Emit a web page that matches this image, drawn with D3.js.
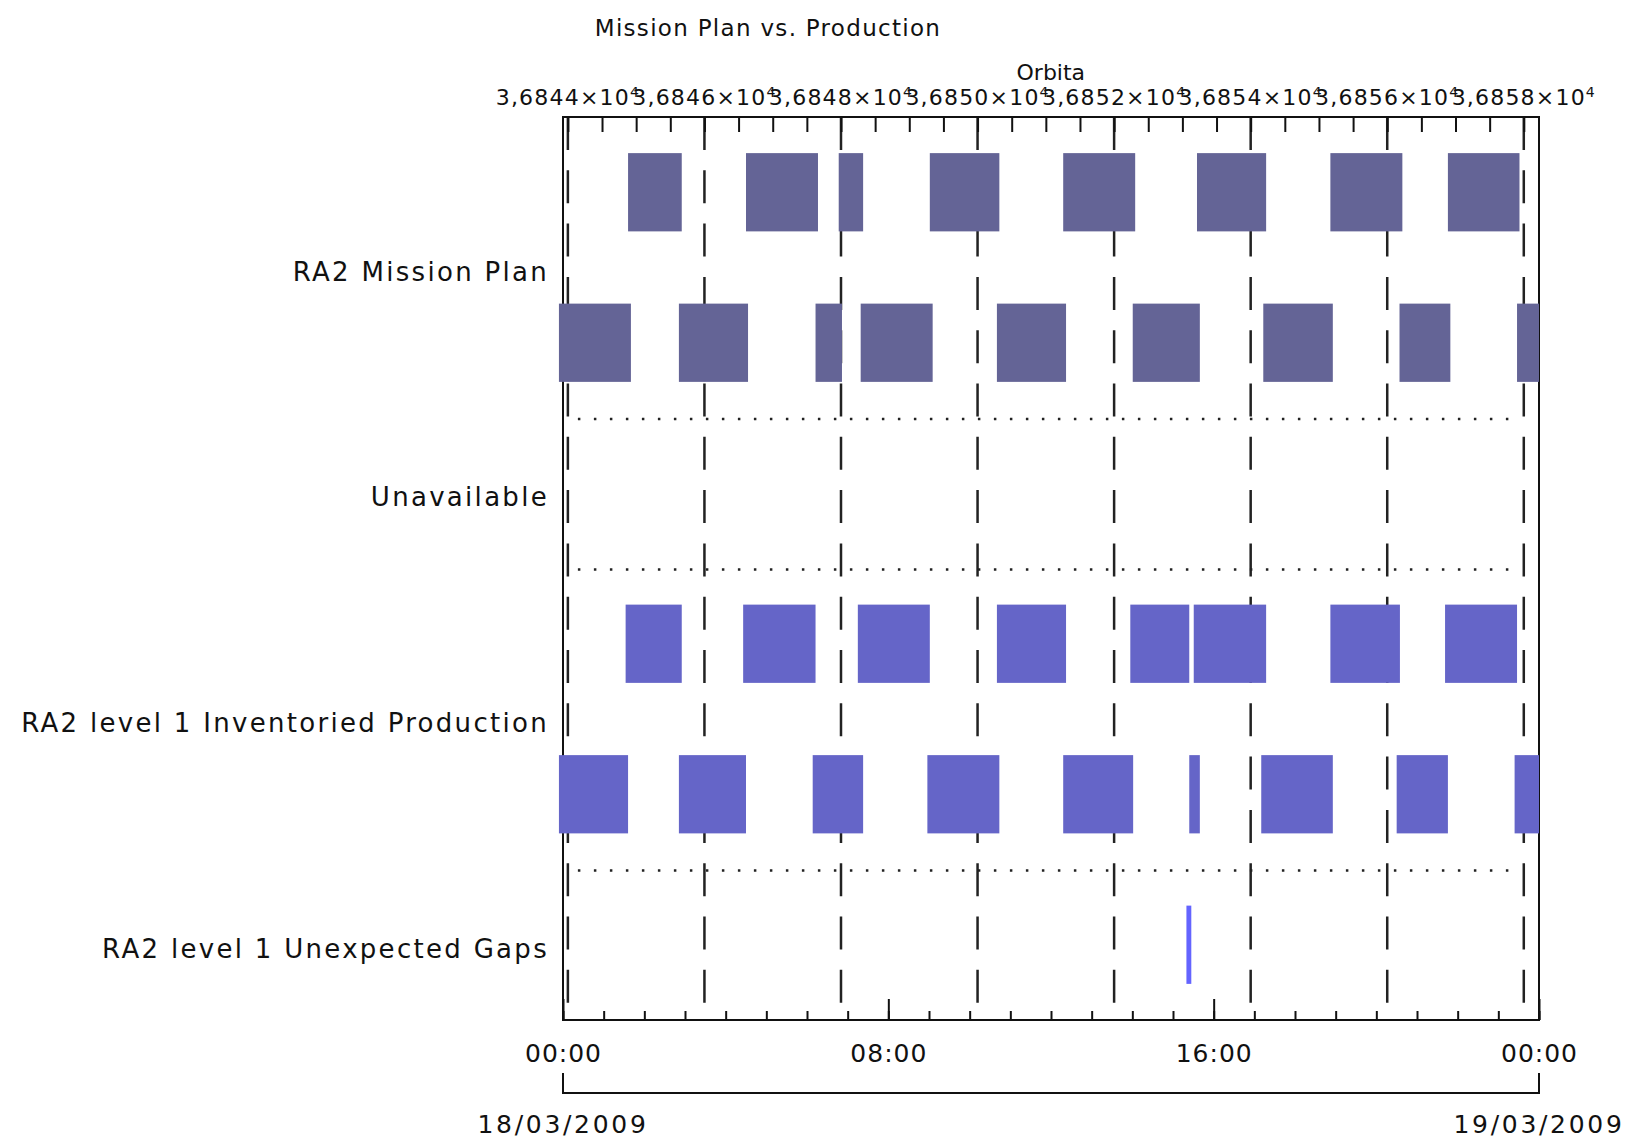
<!DOCTYPE html>
<html>
<head>
<meta charset="utf-8">
<script src="https://cdn.jsdelivr.net/npm/d3@7"></script>
<style>
    body { margin: 0; background: #fff; }
    svg text { font-family: 'DejaVu Sans', sans-serif; fill: #111; }
</style>
</head>
<body>
<script>
// row labels and how many stacked lanes each row uses
const categories = ['RA2 Mission Plan', 'Unavailable', 'RA2 level 1 Inventoried Production', 'RA2 level 1 Unexpected Gaps'];
const laneCounts = [2, 1, 2, 1];
const barColors = ['#646496', '#646496', '#6565c8', '#6464ff'];

// intervals in hours since 18/03/2009 00:00 (segments alternate between the two lanes)
const missionPlan = [
    [-0.10, 1.67], [1.60, 2.92], [2.85, 4.55], [4.50, 6.27], [6.21, 6.86], [6.78, 7.38],
    [7.32, 9.09], [9.02, 10.73], [10.67, 12.37], [12.30, 14.07], [14.01, 15.66], [15.59, 17.29],
    [17.22, 18.93], [18.87, 20.64], [20.57, 21.82], [21.76, 23.52], [23.46, 24.00]
];
const unavailable = [];
const inventoriedProduction = [
    [-0.10, 1.60], [1.54, 2.92], [2.85, 4.50], [4.43, 6.21], [6.14, 7.38], [7.25, 9.02],
    [8.96, 10.73], [10.67, 12.37], [12.30, 14.02], [13.95, 15.40], [15.40, 15.66], [15.51, 17.29],
    [17.17, 18.93], [18.87, 20.58], [20.50, 21.76], [21.69, 23.46], [23.40, 24.00]
];
const unexpectedGaps = [[15.33, 15.45]];

// orbit axis
const orbitFirst = 36844;
const orbitLast = 36858;
const orbitFirstHour = 0.12;
const orbitPeriodHours = 1.679;

const dayStart = new Date(2009, 2, 18);
const dayEnd = new Date(2009, 2, 19);

drawChart();

function drawChart()
{
    const width = 1631;
    const height = 1141;

    const marginLeft = 563;
    const marginRight = 92;
    const marginTop = 117;
    const marginBottom = 121;

    const svg = d3.select('body').append('svg')
        .attr('width', width)
        .attr('height', height);

    const toDate = h => new Date(dayStart.getTime() + h * 36e5);
    const orbitAt = h => orbitFirst + (h - orbitFirstHour) / orbitPeriodHours;

    // x scalers
    const x = d3.scaleTime()
        .domain([dayStart, dayEnd])
        .range([marginLeft, width - marginRight]);

    const xOrbit = d3.scaleLinear()
        .domain([orbitAt(0), orbitAt(24)])
        .range([marginLeft, width - marginRight]);

    // one band per lane
    const lanes = [];
    categories.forEach((c, i) => d3.range(laneCounts[i]).forEach(k => lanes.push(`${c}#${k}`)));

    const y = d3.scaleBand()
        .domain(lanes)
        .range([marginTop, height - marginBottom])
        .paddingInner(0.48)
        .paddingOuter(0.24);

    const step = y.step();
    const laneTop = lane => y(lane) - (step - y.bandwidth()) / 2;

    const orbitLines = d3.range(orbitFirst, orbitLast + 1, 2);

    // dashed orbit lines
    svg.selectAll('line.orbit')
        .data(orbitLines)
        .enter()
        .append('line')
        .attr('class', 'orbit')
        .attr('x1', d => xOrbit(d))
        .attr('x2', d => xOrbit(d))
        .attr('y1', marginTop)
        .attr('y2', height - marginBottom)
        .attr('stroke', '#222')
        .attr('stroke-width', 2.5)
        .attr('stroke-dasharray', '33 20.3');

    // dotted separators between rows
    const separators = [];
    let laneIndex = 0;
    laneCounts.slice(0, -1).forEach(n =>
    {
        laneIndex += n;
        separators.push(laneTop(lanes[laneIndex]) + 1);
    });

    svg.selectAll('line.separator')
        .data(separators)
        .enter()
        .append('line')
        .attr('class', 'separator')
        .attr('x1', xOrbit(orbitFirst) + 10)
        .attr('x2', xOrbit(orbitLast) - 10)
        .attr('y1', d => d)
        .attr('y2', d => d)
        .attr('stroke', '#222')
        .attr('stroke-width', 2.5)
        .attr('stroke-dasharray', '2.5 13.5');

    // frame
    svg.append('rect')
        .attr('x', marginLeft)
        .attr('y', marginTop)
        .attr('width', width - marginLeft - marginRight)
        .attr('height', height - marginTop - marginBottom)
        .attr('fill', 'none')
        .attr('stroke', '#111')
        .attr('stroke-width', 2);

    // top orbit axis
    const topAxis = svg.append('g')
        .attr('transform', `translate(0, ${marginTop})`)
        .call(d3.axisTop(xOrbit)
            .tickValues(d3.range(orbitFirst, orbitLast + 0.01, 0.5))
            .tickSize(-15)
            .tickFormat(''))
        .call(g => g.select('.domain').remove());

    topAxis.selectAll('.tick line').attr('stroke', '#111').attr('stroke-width', 2);

    topAxis.selectAll('text.orbit-label')
        .data(orbitLines)
        .enter()
        .append('text')
        .attr('class', 'orbit-label')
        .attr('x', d => xOrbit(d))
        .attr('y', -12)
        .attr('text-anchor', 'middle')
        .style('font-size', '22px')
        .attr('letter-spacing', 1.2)
        .each(function(d)
        {
            const t = d3.select(this);
            t.append('tspan').text(`${(d / 1e4).toFixed(4).replace('.', ',')}×10`);
            t.append('tspan').attr('dy', -8).style('font-size', '14px').text('4');
        });

    svg.append('text')
        .attr('x', xOrbit((orbitFirst + orbitLast) / 2) + 5)
        .attr('y', 80)
        .attr('text-anchor', 'middle')
        .style('font-size', '22px')
        .text('Orbita');

    // bottom time axis
    const bottomY = height - marginBottom;
    svg.append('g')
        .attr('transform', `translate(0, ${bottomY})`)
        .call(d3.axisBottom(x).ticks(d3.timeHour.every(1)).tickSize(-9).tickFormat(''))
        .call(g => g.select('.domain').remove())
        .selectAll('.tick line').attr('stroke', '#111').attr('stroke-width', 2);

    const majorAxis = svg.append('g')
        .attr('transform', `translate(0, ${bottomY})`)
        .call(d3.axisBottom(x).ticks(d3.timeHour.every(8)).tickSize(-21).tickFormat(d3.timeFormat('%H:%M')))
        .call(g => g.select('.domain').remove());

    majorAxis.selectAll('.tick line').attr('stroke', '#111').attr('stroke-width', 2);
    majorAxis.selectAll('.tick text')
        .attr('y', 42)
        .attr('dy', null)
        .attr('fill', '#111')
        .attr('letter-spacing', 1)
        .style('font-size', '25px')
        .style('font-family', "'DejaVu Sans', sans-serif");

    // date bracket
    svg.append('path')
        .attr('d', `M${x(dayStart)},${bottomY + 53}V${bottomY + 73}H${x(dayEnd)}V${bottomY + 53}`)
        .attr('fill', 'none')
        .attr('stroke', '#111')
        .attr('stroke-width', 2);

    svg.selectAll('text.date')
        .data([dayStart, dayEnd])
        .enter()
        .append('text')
        .attr('class', 'date')
        .attr('x', d => x(d))
        .attr('y', bottomY + 113)
        .attr('text-anchor', 'middle')
        .attr('letter-spacing', 2.7)
        .style('font-size', '25px')
        .text(d3.timeFormat('%d/%m/%Y'));

    // title
    svg.append('text')
        .attr('x', 768)
        .attr('y', 36)
        .attr('text-anchor', 'middle')
        .attr('letter-spacing', 1.3)
        .style('font-size', '23px')
        .text('Mission Plan vs. Production');

    // row labels
    svg.selectAll('text.row-label')
        .data(categories)
        .enter()
        .append('text')
        .attr('class', 'row-label')
        .attr('x', marginLeft - 14)
        .attr('y', (d, i) => laneTop(`${d}#0`) + laneCounts[i] * step / 2 + 13)
        .attr('text-anchor', 'end')
        .attr('letter-spacing', 2.3)
        .style('font-size', '26px')
        .text(d => d);

    // bars
    const series = [missionPlan, unavailable, inventoriedProduction, unexpectedGaps];
    const barData = [];
    series.forEach((s, i) =>
    {
        s.forEach((seg, j) =>
        {
            const lane = laneCounts[i] === 2 ? (j % 2 === 0 ? 1 : 0) : 0;
            barData.push({ start: seg[0], end: seg[1], lane: `${categories[i]}#${lane}`, color: barColors[i] });
        });
    });

    svg.selectAll('.bar')
        .data(barData)
        .enter()
        .append('rect')
        .attr('class', 'bar')
        .attr('x', d => x(toDate(d.start)))
        .attr('y', d => y(d.lane))
        .attr('width', d => x(toDate(d.end)) - x(toDate(d.start)))
        .attr('height', y.bandwidth())
        .attr('fill', d => d.color);
}
</script>
</body>
</html>
